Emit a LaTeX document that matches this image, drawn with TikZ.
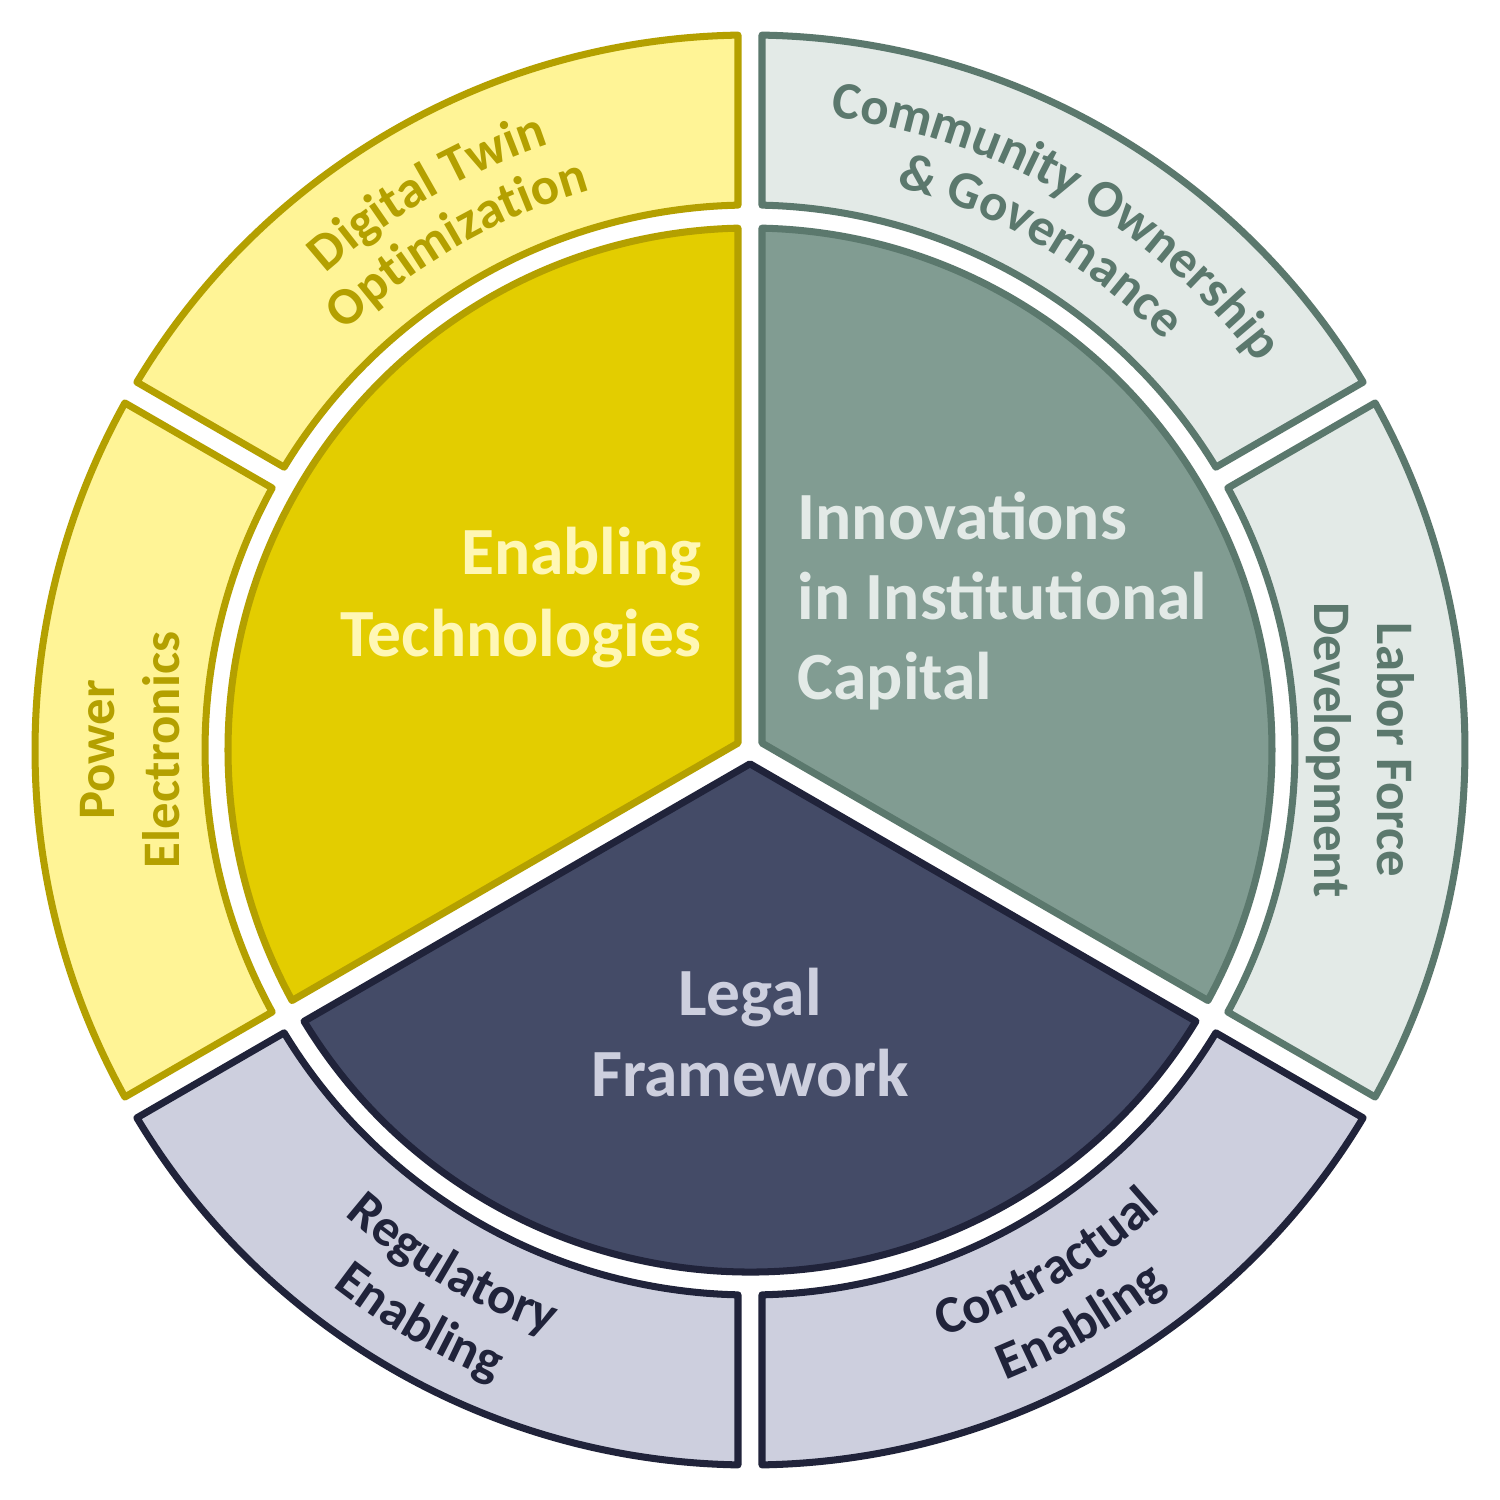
\documentclass[tikz,border=0pt]{standalone}
\usepackage{fontspec}
\setmainfont{Carlito}
\usetikzlibrary{decorations.text}
\definecolor{yIn}{HTML}{E3CD00}
\definecolor{yOut}{HTML}{FFF496}
\definecolor{yLine}{HTML}{B4A000}
\definecolor{yTxt}{HTML}{FFF7B5}
\definecolor{tIn}{HTML}{819C92}
\definecolor{tOut}{HTML}{E3EAE7}
\definecolor{tLine}{HTML}{5B786D}
\definecolor{nIn}{HTML}{444B67}
\definecolor{nOut}{HTML}{CDCFDE}
\definecolor{nLine}{HTML}{20233A}
\newcommand\BigLbl{\bfseries\fontsize{19.2}{23}\selectfont}
\newcommand\SmLbl{\bfseries\fontsize{15}{18}\selectfont}
\begin{document}
\begin{tikzpicture}[x=0.01cm,y=0.01cm,
  shapebase/.style={line width=2pt, line join=round},
  segY/.style={shapebase, draw=yLine, fill=yOut},
  segT/.style={shapebase, draw=tLine, fill=tOut},
  segN/.style={shapebase, draw=nLine, fill=nOut},
  coreY/.style={shapebase, draw=yLine, fill=yIn},
  coreT/.style={shapebase, draw=tLine, fill=tIn},
  coreN/.style={shapebase, draw=nLine, fill=nIn},
  maintext/.style={inner sep=0pt, font=\BigLbl},
  ringtext/.style={inner sep=0pt, font=\SmLbl},
  arctext/.style={decorate, decoration={text along path, text align=center, text={#1}}}
]
\fill[white] (-750,-750) rectangle (750,750);
\useasboundingbox (-750,-750) rectangle (750,750);

% outer ring segments
\foreach \a/\b/\st in {90/150/segY,150/210/segY,210/270/segN,270/330/segN,-30/30/segT,30/90/segT}
  \draw[\st] ({\a+0.962}:715) arc[start angle={\a+0.962}, end angle={\b-0.962}, radius=715]
     -- ({\b-1.262}:545) arc[start angle={\b-1.262}, end angle={\a+1.262}, radius=545] -- cycle;

% inner sectors
\draw[coreY] (150:13.856) -- (91.317:522) arc[start angle=91.317, end angle=208.683, radius=522] -- cycle;
\draw[coreT] (30:13.856) -- (88.683:522) arc[start angle=88.683, end angle=-28.683, radius=522] -- cycle;
\draw[coreN] (270:13.856) -- (211.317:522) arc[start angle=211.317, end angle=328.683, radius=522] -- cycle;

% central labels
\node[maintext, text=yTxt, anchor=base east] (et1) at (-48,175) {Enabling};
\node[maintext, text=yTxt, anchor=base east] (et2) at (-48,93) {Technologies};
\node[maintext, text=tOut, anchor=base west] (ic1) at (47,210) {Innovations};
\node[maintext, text=tOut, anchor=base west] (ic2) at (47,130) {in Institutional};
\node[maintext, text=tOut, anchor=base west] (ic3) at (47,50) {Capital};
\node[maintext, text=nOut, anchor=base] (lf1) at (0,-265) {Legal};
\node[maintext, text=nOut, anchor=base] (lf2) at (0,-347) {Framework};

% straight ring labels
\node[ringtext, text=yLine, anchor=base, rotate=90] (pe1) at (-635,0) {Power};
\node[ringtext, text=yLine, anchor=base, rotate=90] (pe2) at (-570,0) {Electronics};
\node[ringtext, text=tLine, anchor=base, rotate=-90] (lb1) at (627,0) {Labor Force};
\node[ringtext, text=tLine, anchor=base, rotate=-90] (lb2) at (564,0) {Development};

% curved ring labels
\path[arctext={|\SmLbl\color{yLine}|Digital Twin}] (170:638) arc[start angle=170, end angle=70, radius=638];
\path[arctext={|\SmLbl\color{yLine}|Optimization}] (170:582) arc[start angle=170, end angle=70, radius=582];
\path[arctext={|\SmLbl\color{tLine}|Community Ownership}] (110:638) arc[start angle=110, end angle=10, radius=638];
\path[arctext={|\SmLbl\color{tLine}|{\&} Governance}] (110:582) arc[start angle=110, end angle=10, radius=582];
\path[arctext={|\SmLbl\color{nLine}|Regulatory}] (190:617) arc[start angle=190, end angle=290, radius=617];
\path[arctext={|\SmLbl\color{nLine}|Enabling}] (190:680) arc[start angle=190, end angle=290, radius=680];
\path[arctext={|\SmLbl\color{nLine}|Contractual}] (250:617) arc[start angle=250, end angle=350, radius=617];
\path[arctext={|\SmLbl\color{nLine}|Enabling}] (250:680) arc[start angle=250, end angle=350, radius=680];
\end{tikzpicture}
\end{document}
